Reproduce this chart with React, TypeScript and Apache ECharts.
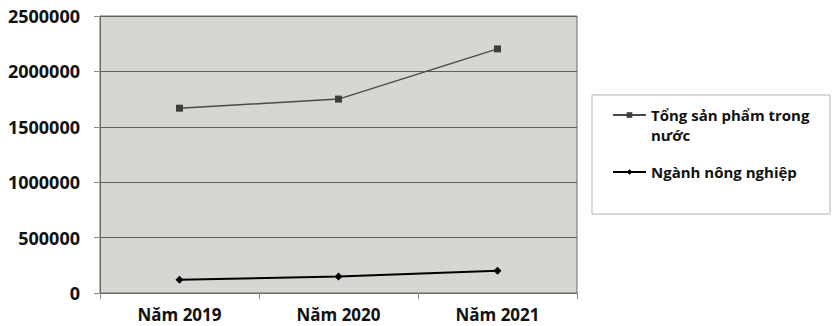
import React, { useEffect, useRef } from "react";
import * as echarts from "echarts";

const categories = ["Năm 2019", "Năm 2020", "Năm 2021"];
const gdpName = "Tổng sản phẩm trong\nnước";
const agriName = "Ngành nông nghiệp";
const gdpValues = [1668000, 1750000, 2203000];
const agriValues = [120000, 148000, 200000];
const yTicks = [0, 500000, 1000000, 1500000, 2000000, 2500000];

const FONT = "'Open Sans', 'Noto Sans', sans-serif";

export default function App() {
  const ref = useRef<HTMLDivElement>(null);
  useEffect(() => {
    document.body.style.margin = "0";
    const chart = echarts.init(ref.current!, null, { renderer: "svg" });
    chart.setOption({
      animation: false,
      backgroundColor: "#ffffff",
      grid: {
        left: 100,
        right: 256,
        top: 16,
        bottom: 33,
        show: true,
        backgroundColor: "#d7d7d1",
        borderColor: "#6a6a66",
        borderWidth: 1,
      },
      graphic: [
        {
          type: "rect",
          z: 0,
          shape: { x: 592, y: 95, width: 238, height: 119 },
          style: { fill: "#ffffff", stroke: "#b5b5b5", lineWidth: 1 },
        },
      ],
      legend: [
        {
          data: [gdpName],
          orient: "vertical",
          left: 612,
          top: 85,
          padding: 0,
          itemWidth: 33,
          itemHeight: 7,
          textStyle: { fontFamily: FONT, fontWeight: "bold", fontSize: 15, color: "#111", lineHeight: 20 },
          formatter: (n: string) => "\n" + n,
        },
        {
          data: [agriName],
          orient: "vertical",
          left: 612,
          top: 162,
          padding: 0,
          itemWidth: 33,
          itemHeight: 7,
          textStyle: { fontFamily: FONT, fontWeight: "bold", fontSize: 15, color: "#111", lineHeight: 20 },
        },
      ],
      xAxis: {
        type: "category",
        data: categories,
        boundaryGap: true,
        axisLine: { show: true, lineStyle: { color: "#6a6a66", width: 1 } },
        axisTick: { show: true, length: 6, interval: 0, lineStyle: { color: "#888" } },
        axisLabel: { fontFamily: FONT, fontWeight: "bold", fontSize: 17, color: "#111", margin: 13 },
      },
      yAxis: {
        type: "value",
        min: yTicks[0],
        max: yTicks[yTicks.length - 1],
        interval: yTicks[1] - yTicks[0],
        axisLine: { show: true, lineStyle: { color: "#6a6a66", width: 1 } },
        axisTick: { show: true, length: 6, lineStyle: { color: "#888" } },
        axisLabel: {
          fontFamily: FONT,
          fontWeight: "bold",
          fontSize: 18,
          color: "#111",
          margin: 20,
          formatter: (v: number) => String(v),
        },
        splitLine: { show: true, lineStyle: { color: "#5f5f5c", width: 1 } },
      },
      series: [
        {
          name: gdpName,
          type: "line",
          data: gdpValues,
          symbol: "rect",
          symbolSize: 7,
          lineStyle: { color: "#4a4a4a", width: 1.5 },
          itemStyle: { color: "#3e3e3e" },
        },
        {
          name: agriName,
          type: "line",
          data: agriValues,
          symbol: "diamond",
          symbolSize: 8,
          lineStyle: { color: "#000", width: 2 },
          itemStyle: { color: "#000" },
        },
      ],
    });
    return () => chart.dispose();
  }, []);
  return <div ref={ref} style={{ width: 833, height: 326, position: "absolute", left: 0, top: 0 }} />;
}
